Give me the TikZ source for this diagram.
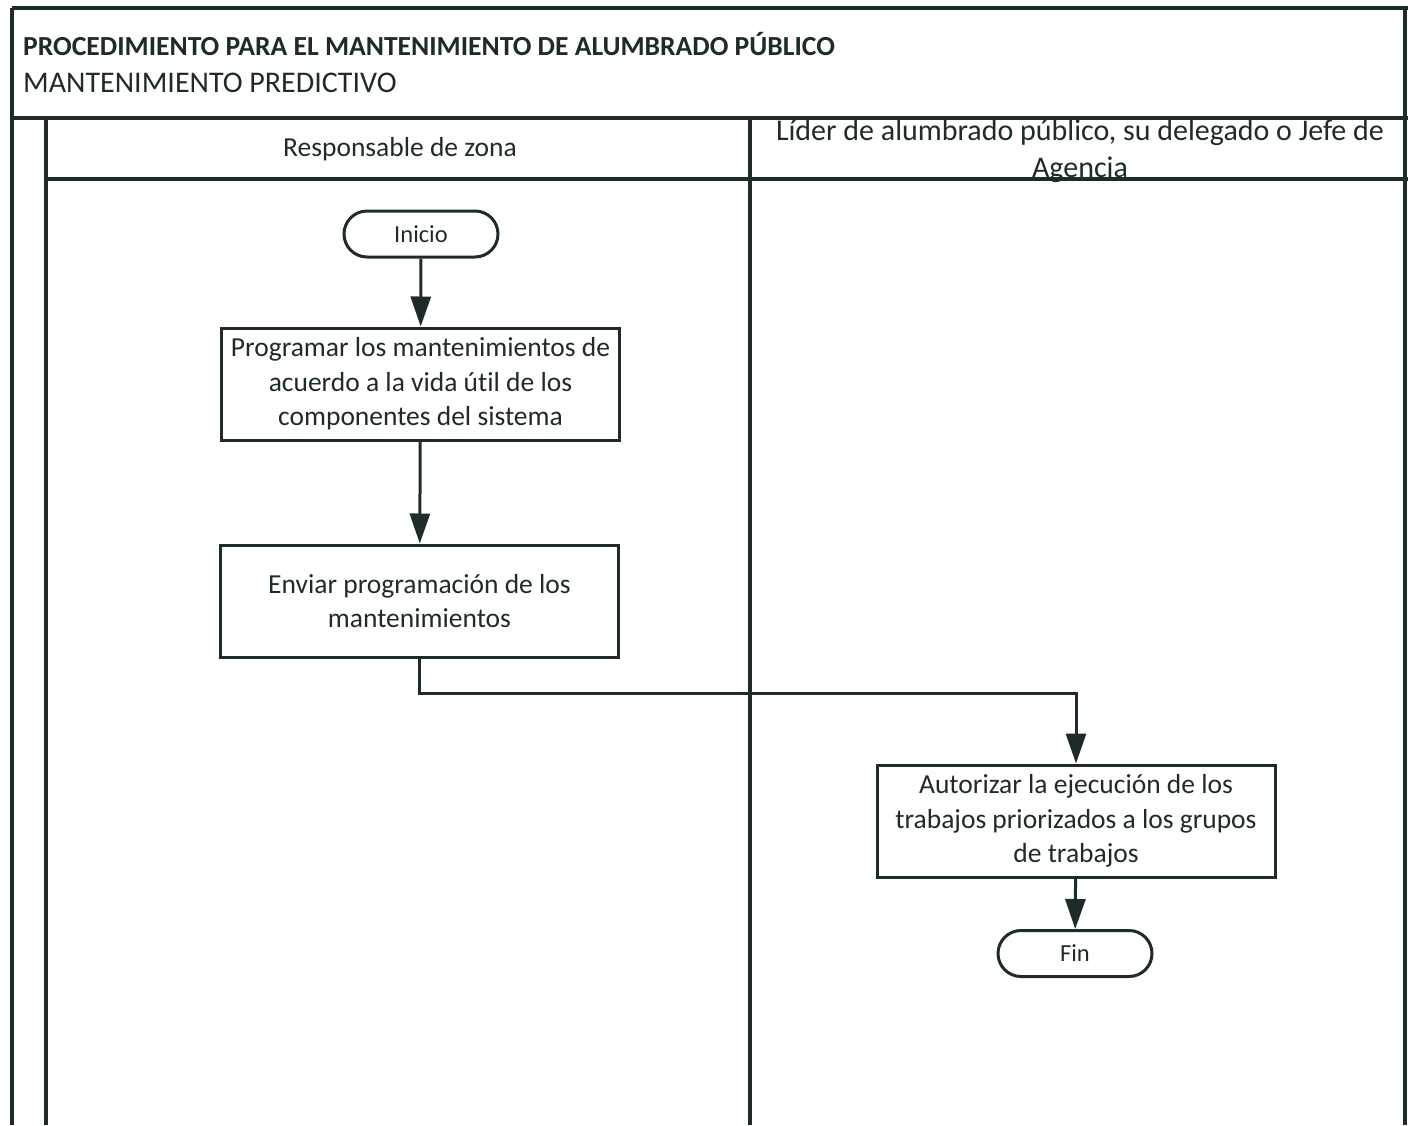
\documentclass[tikz,border=0pt]{standalone}
\usepackage{fontspec}
\setmainfont{Carlito}[RawFeature=-liga]
\usetikzlibrary{arrows.meta,shapes.misc}

\definecolor{ink}{HTML}{1F2B2B}

\begin{document}
\begin{tikzpicture}[x=1pt,y=-1pt,
    every node/.style={font=\fontsize{27.5}{34.5}\selectfont,text=ink,inner sep=0pt},
    lane/.style={draw=ink,line width=3.5pt},
    task/.style={draw=ink,fill=white,line width=3pt,minimum width=398pt,minimum height=112pt,align=center},
    term/.style={draw=ink,fill=white,line width=3pt,rounded rectangle,minimum width=154pt,minimum height=46pt,font=\fontsize{24.5}{30}\selectfont},
    flow/.style={draw=ink,line width=3pt,-{Triangle[length=30pt,width=20pt]}}]
    \useasboundingbox (0,0) rectangle (1413,1125);
    \draw[lane] (12,8) -- (1408,8);
    \draw[lane] (12,8) -- (12,1125);
    \draw[lane] (1405,8) -- (1405,1125);
    \draw[lane] (12,118) -- (1408,118);
    \draw[lane] (46,118) -- (46,1125);
    \draw[lane] (46,179) -- (1408,179);
    \draw[lane] (750,118) -- (750,1125);
    \node[anchor=base west,font=\bfseries\fontsize{27.6}{34.5}\selectfont] (titulo) at (23,55)
      {PROCEDIMIENTO PARA EL MANTENIMIENTO DE ALUMBRADO PÚBLICO};
    \node[anchor=base west,font=\fontsize{30}{36}\selectfont] (subtitulo) at (23,92) {MANTENIMIENTO PREDICTIVO};
    \node (zona) at (400,149) {Responsable de zona};
    \node[align=center,font=\fontsize{30}{37}\selectfont] (lider) at (1080,151)
      {Líder de alumbrado público, su delegado o Jefe de\\Agencia};
    \node[term] (ini) at (421,234) {Inicio};
    \node[task] (prog) at (420.5,384)
      {Programar los mantenimientos de\\acuerdo a la vida útil de los\\componentes del sistema};
    \node[task] (env) at (419.5,601)
      {Enviar programación de los\\mantenimientos};
    \node[task] (aut) at (1076,821)
      {Autorizar la ejecución de los\\trabajos priorizados a los grupos\\de trabajos};
    \node[term] (fin) at (1075,953.5) {Fin};
    \draw[flow] (ini) -- (prog);
    \draw[flow] (prog) -- (env);
    \draw[flow] (env.south) -- ++(0,35) -| (aut.north);
    \draw[flow] (aut) -- (fin);
  \end{tikzpicture}
\end{document}
